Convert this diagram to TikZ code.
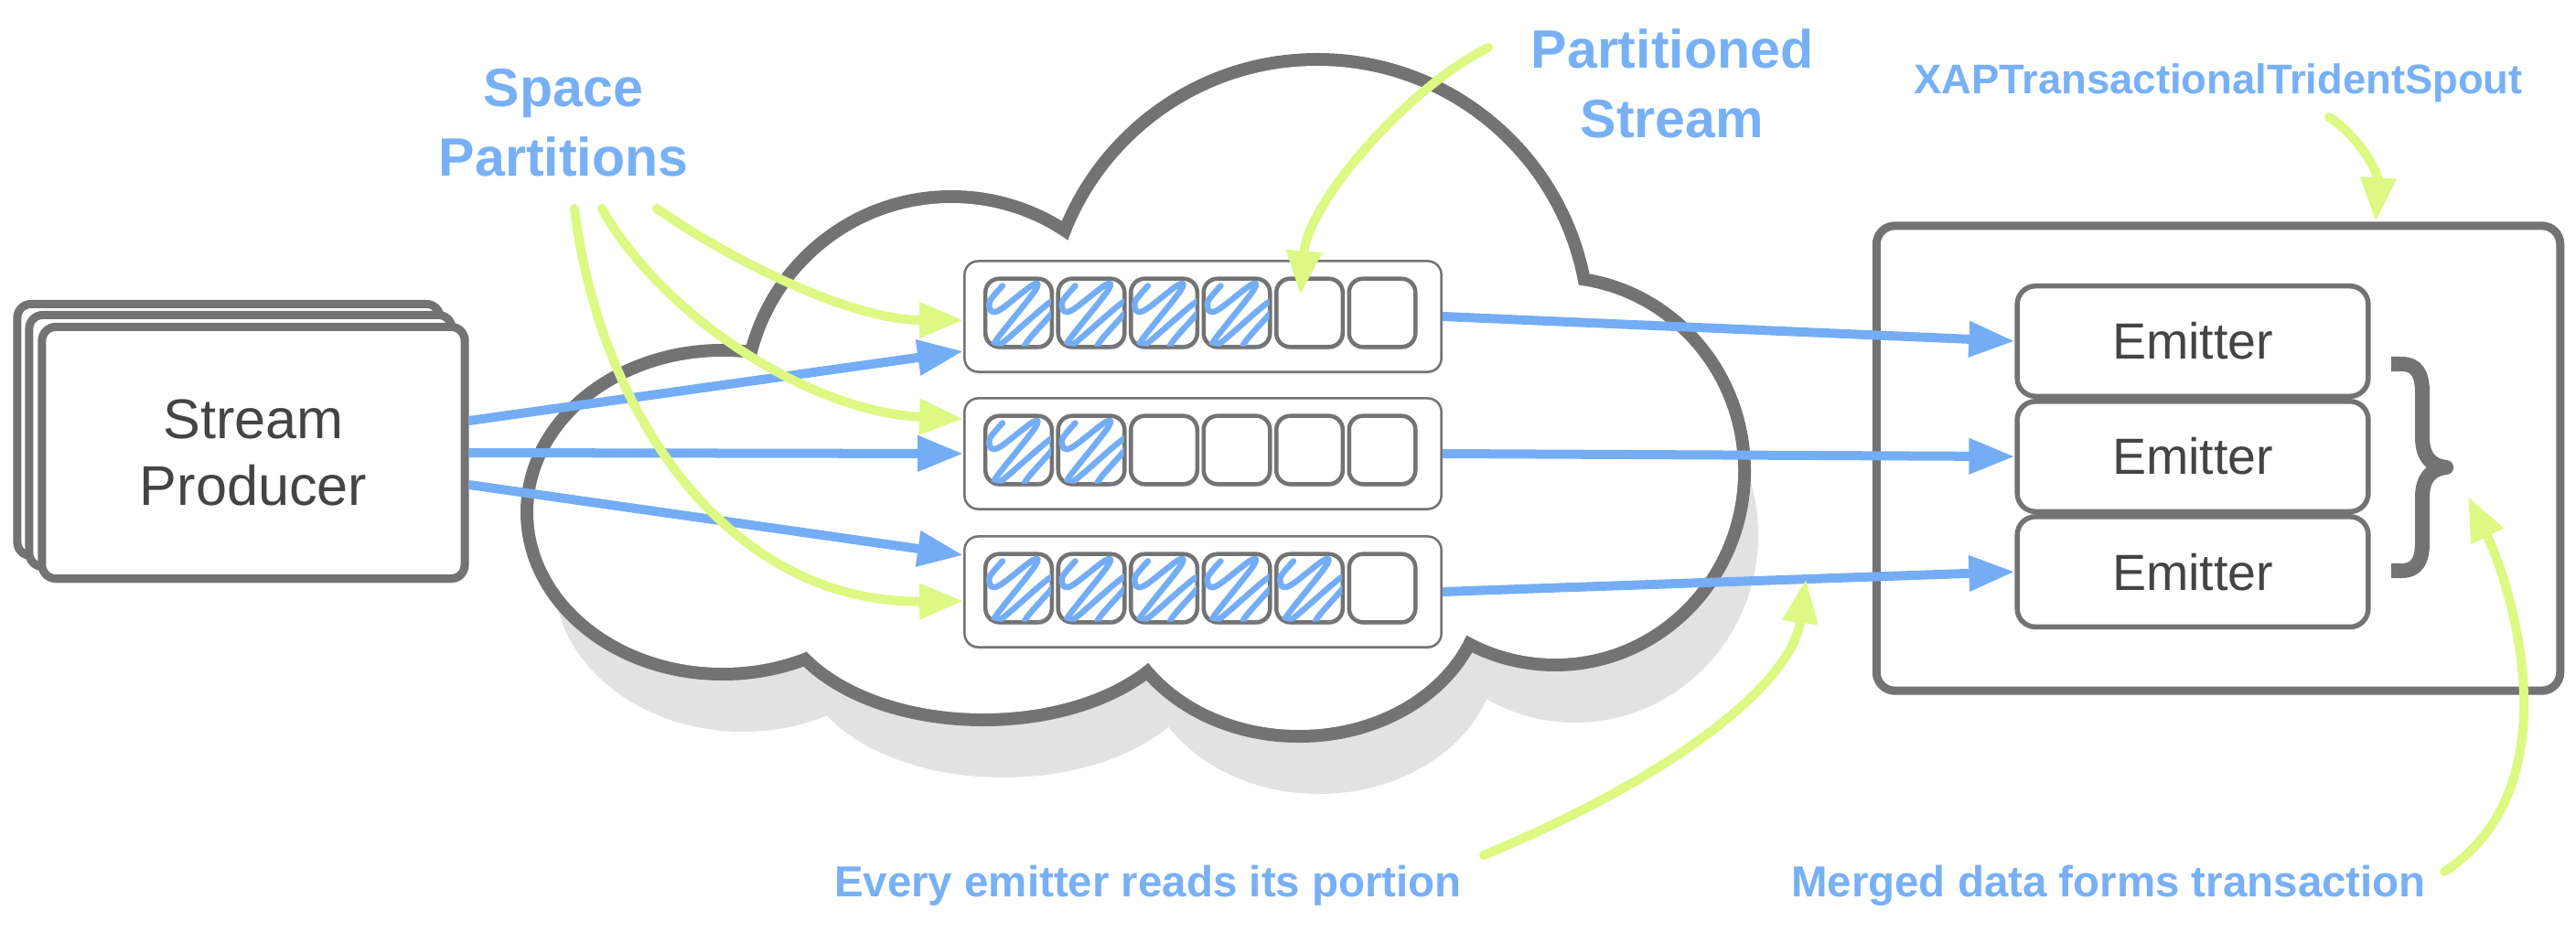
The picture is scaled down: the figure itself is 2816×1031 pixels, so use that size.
\documentclass[tikz,border=0pt]{standalone}
\usepackage{fontspec}
\setmainfont{Liberation Sans}
\usetikzlibrary{positioning, arrows.meta, calc, shadows}

\definecolor{linegray}{RGB}{115,115,115}
\definecolor{textgray}{RGB}{68,68,68}
\definecolor{flowblue}{RGB}{116,173,245}
\definecolor{labelblue}{RGB}{120,176,245}
\definecolor{notegreen}{RGB}{221,248,131}
\definecolor{shadowgray}{RGB}{226,226,226}

\tikzset{
  stackbox/.style={draw=linegray, line width=0.09cm, fill=white, rounded corners=0.15cm,
    minimum width=4.62cm, minimum height=2.75cm, inner sep=0pt,
    drop shadow={shadow xshift=0.02cm, shadow yshift=-0.05cm, opacity=0.3}},
  rowbox/.style={draw=linegray, line width=0.025cm, fill=white, rounded corners=0.15cm,
    minimum width=5.21cm, minimum height=1.21cm, inner sep=0pt,
    drop shadow={shadow xshift=0cm, shadow yshift=-0.03cm, opacity=0.12}},
  cellbox/.style={draw=linegray, line width=0.045cm, fill=white, rounded corners=0.15cm,
    minimum width=0.725cm, minimum height=0.745cm, inner sep=0pt,
    drop shadow={shadow xshift=0.01cm, shadow yshift=-0.03cm, opacity=0.3}},
  emitterbox/.style={draw=linegray, line width=0.055cm, fill=white, rounded corners=0.2cm,
    minimum width=3.835cm, minimum height=1.205cm, inner sep=0pt, text=textgray,
    font=\fontsize{15.8pt}{19pt}\selectfont,
    drop shadow={shadow xshift=0.01cm, shadow yshift=-0.03cm, opacity=0.3}},
  spoutbox/.style={draw=linegray, line width=0.09cm, fill=white, rounded corners=0.2cm,
    minimum width=7.47cm, minimum height=5.08cm, inner sep=0pt,
    drop shadow={shadow xshift=0.01cm, shadow yshift=-0.05cm, opacity=0.25}},
  note/.style={text=labelblue, font=\bfseries\fontsize{16.8pt}{21.6pt}\selectfont,
    align=center, inner sep=0pt},
  smallnote/.style={text=labelblue, font=\bfseries\fontsize{13.5pt}{16pt}\selectfont, inner sep=0pt},
  flow/.style={draw=flowblue, line width=0.1cm, -{Triangle[length=0.5cm, width=0.37cm]}},
  pointer/.style={draw=notegreen, line width=0.1cm, line cap=round,
    -{Triangle[length=0.48cm, width=0.37cm]}},
  scribble/.style={draw=flowblue, line width=0.065cm, line cap=round, line join=round},
}

\begin{document}
\begin{tikzpicture}[x=0.01cm, y=-0.01cm, >=Stealth]

\def\lobes{790/560/207/170, 1040/441/219/219, 1440/362/290/290, 1700/515/200/205, 1075/650/220/130, 1420/640/195/158}

% Bounding box
\useasboundingbox (0,0) rectangle (2816,1031);

% Cloud shadow
\foreach \cx/\cy/\rx/\ry in \lobes {
    \fill[shadowgray] (\cx+22,\cy+70) ellipse [x radius=\rx, y radius=\ry];
}

% Cloud
\foreach \cx/\cy/\rx/\ry in \lobes {
    \draw[linegray, line width=0.28cm] (\cx,\cy) ellipse [x radius=\rx, y radius=\ry];
}
\foreach \cx/\cy/\rx/\ry in \lobes {
    \fill[white] (\cx,\cy) ellipse [x radius=\rx, y radius=\ry];
}
\fill[white] (1250,520) ellipse [x radius=430, y radius=190];

% Stream producer
\node[stackbox] (producer-b2) at (250,470) {};
\node[stackbox] (producer-b1) at (263,482) {};
\node[stackbox, text=textgray, align=center,
      font=\fontsize{17.4pt}{20.8pt}\selectfont] (producer) at (277,495) {Stream\\Producer};

% Spout with emitters
\node[spoutbox] (spout) at (2425,501) {};
\node[emitterbox] (emitter1) at (2397,373) {Emitter};
\node[emitterbox, below=0cm of emitter1] (emitter2) {Emitter};
\node[emitterbox, below=0cm of emitter2] (emitter3) {Emitter};

% Brace
\draw[linegray, line width=0.16cm, line join=round]
    (2614,398) -- (2625,398) .. controls (2643,398) and (2648,410) .. (2648,430)
    -- (2648,478) .. controls (2648,498) and (2656,509) .. (2674,511)
    .. controls (2656,513) and (2648,524) .. (2648,544)
    -- (2648,592) .. controls (2648,612) and (2643,624) .. (2625,624) -- (2614,624);

% Partitions
\foreach \r/\y in {1/346, 2/496, 3/647} {
    \node[rowbox] (row\r) at (1315,\y) {};
    \foreach \c in {1,...,6} {
        \node[cellbox] (cell-\r-\c) at ({1113.5+79.5*(\c-1)},{\y-4}) {};
    }
}

% Filled slots
\foreach \r/\n in {1/4, 2/2, 3/5} {
    \foreach \c in {1,...,\n} {
        \begin{scope}
            \clip[rounded corners=0.13cm] ($(cell-\r-\c.north west)+(3,3)$)
                rectangle ($(cell-\r-\c.south east)+(-3,-3)$);
            \draw[scribble, shift={(cell-\r-\c.north west)}] plot[smooth, tension=0.55]
                coordinates {(21,10) (7,27) (9,38) (20,35) (54,9) (56,16) (13,71)
                             (20,73) (73,28) (77,37) (45,76) (68,78)};
        \end{scope}
    }
}

% Producer to partitions
\draw[flow] ($(producer.east)+(0,-35)$) -- ($(row1.west)+(0,38)$);
\draw[flow] (producer.east) -- (row2.west);
\draw[flow] ($(producer.east)+(0,35)$) -- ($(row3.west)+(0,-40)$);

% Partitions to emitters
\foreach \i in {1,2,3} {
    \draw[flow] (row\i.east) -- (emitter\i.west);
}

% Labels
\node[note] (partitions) at (616,134) {Space\\Partitions};
\node[note] (stream-label) at (1828,91) {Partitioned\\Stream};
\node[smallnote, font=\bfseries\fontsize{12.9pt}{15pt}\selectfont, anchor=base]
    (spout-label) at (2425,103) {XAPTransactionalTridentSpout};
\node[smallnote, anchor=base] (every-label) at (1255,980) {Every emitter reads its portion};
\node[smallnote, anchor=base] (merged-label) at (2305,980) {Merged data forms transaction};

% Pointer ends
\coordinate (sp-a) at (718,228);
\coordinate (sp-b) at (658,228);
\coordinate (sp-c) at (628,228);
\coordinate (ps-start) at ($(stream-label.west)+(-46,-39)$);
\coordinate (xap-start) at ($(spout-label.base)+(121,25)$);
\coordinate (every-start) at (1622,935);
\coordinate (merged-start) at (2672,953);
\coordinate (read-point) at ($(row3.east)!0.635!(emitter3.west)$);
\coordinate (merge-point) at ($(spout.east)+(-105,42)$);

% Pointers
\draw[pointer] (sp-a) .. controls (800,285) and (930,350) .. ($(row1.west)+(0,4)$);
\draw[pointer] (sp-b) .. controls (720,340) and (880,450) .. ($(row2.west)+(0,-38)$);
\draw[pointer] (sp-c) .. controls (655,450) and (795,660) .. ($(row3.west)+(0,10)$);
\draw[pointer] (ps-start) .. controls (1540,95) and (1430,220) .. ($(cell-1-5.north)+(-10,20)$);
\draw[pointer] (xap-start) .. controls (2580,150) and (2600,190) .. ($(spout.north)+(172,0)$);
\draw[pointer] (every-start) .. controls (1850,840) and (1960,740) .. (read-point);
\draw[pointer] (merged-start) .. controls (2815,860) and (2745,640) .. (merge-point);

\end{tikzpicture}
\end{document}
